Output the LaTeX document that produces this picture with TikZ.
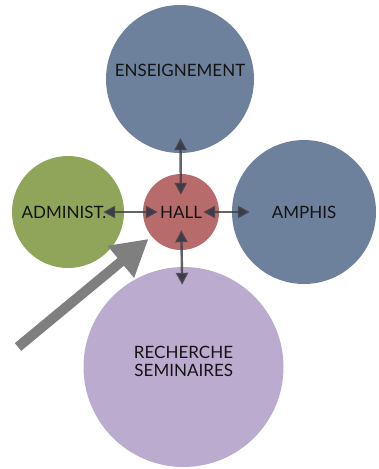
\documentclass[tikz,border=0pt]{standalone}
\usepackage{fontspec}
\setmainfont{Lato}
\usepackage{tikz}
\usetikzlibrary{arrows.meta}
\definecolor{slateBlue}{HTML}{6E819C}
\definecolor{oliveGreen}{HTML}{8FA55A}
\definecolor{hallRed}{HTML}{B86B6B}
\definecolor{softLilac}{HTML}{BBABCF}
\definecolor{linkGray}{HTML}{3C3C46}
\definecolor{entryGray}{HTML}{7F7F7F}
\definecolor{textDark}{HTML}{141414}

\begin{document}
\begin{tikzpicture}[
  x=1pt,y=-1pt,
  zone/.style={circle,inner sep=0pt,font=\fontsize{17}{18}\selectfont,text=textDark},
  link/.style={{Triangle[length=12pt,width=12pt]}-{Triangle[length=12pt,width=12pt]},line width=2.4pt,draw=linkGray,draw opacity=0.8},
  entry/.style={-{Triangle[length=36pt,width=39pt]},line width=10pt,draw=entryGray}
]
\useasboundingbox (0,0) rectangle (379,469);
% les espaces
\node[zone,fill=slateBlue,minimum size=148pt,label={[zone,yshift=9pt]center:ENSEIGNEMENT}] (ens) at (180,79) {};
\node[zone,fill=slateBlue,minimum size=144pt] (amphis) at (304,212) {AMPHIS};
\node[zone,fill=oliveGreen,minimum size=112pt,label={[zone,xshift=-4pt]center:ADMINIST.}] (admin) at (68,212) {};
\node[zone,fill=softLilac,minimum size=200pt,label={[zone,align=right,yshift=6pt]center:RECHERCHE\\SEMINAIRES}] (rech) at (183.5,367) {};
\node[zone,fill=hallRed,minimum size=76pt] (hall) at (181,212) {HALL};
% liaisons avec le hall
\draw[link,shorten <=-15pt,shorten >=-21pt] (ens) -- (hall);
\draw[link,shorten <=-21pt,shorten >=-15pt] (admin) -- (hall);
\draw[link,shorten <=-16pt,shorten >=-18pt] (hall) -- (amphis);
\draw[link,shorten <=-20pt,shorten >=-18pt] (hall) -- (rech);
% entree
\coordinate (entree) at (18,347);
\draw[entry,shorten >=4pt] (entree) -- (hall);
\end{tikzpicture}
\end{document}
